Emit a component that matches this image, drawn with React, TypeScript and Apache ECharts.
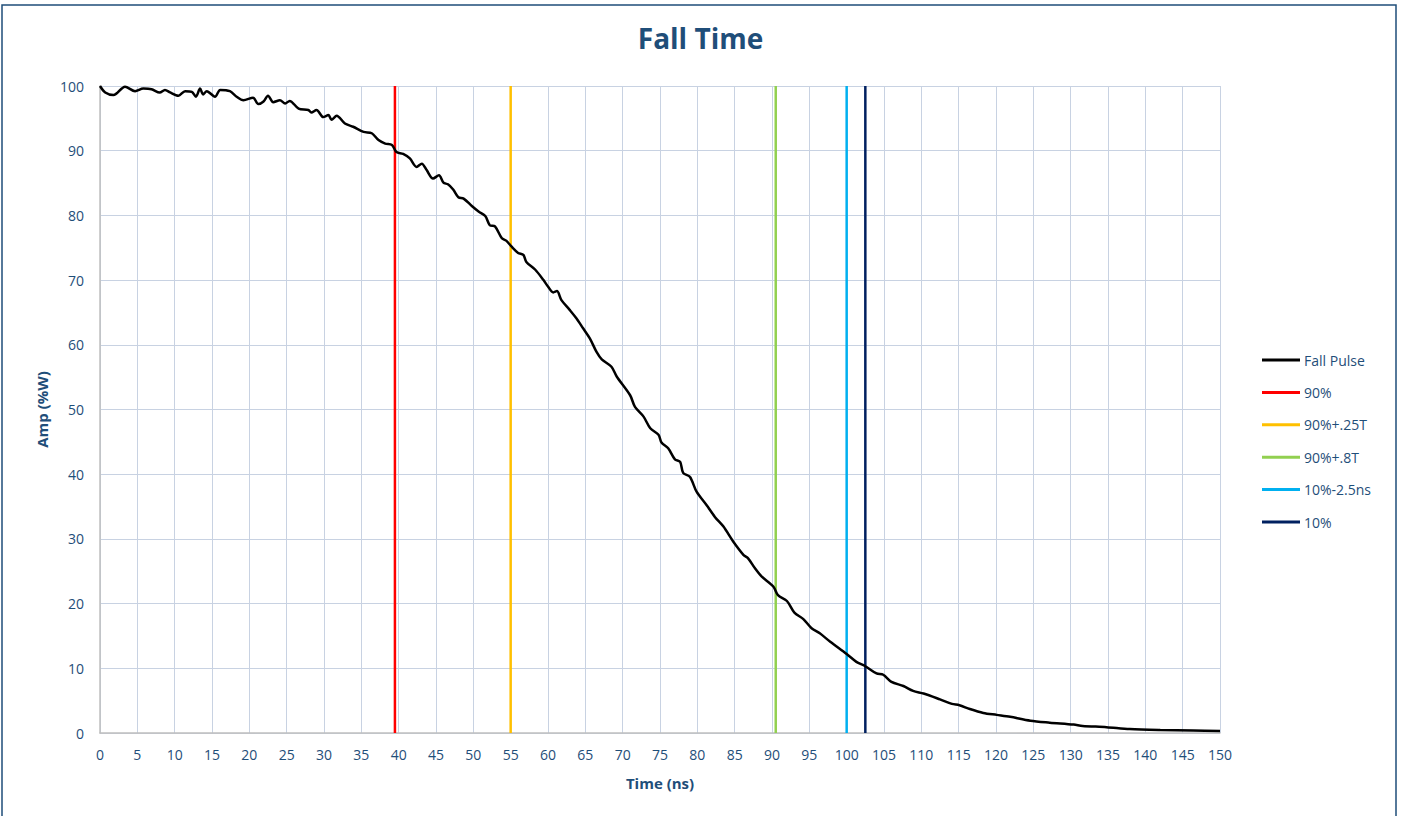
import React, { useEffect, useRef } from "react";
import * as echarts from "echarts";

const timeNs: number[] = [
  0, 0.7, 1.8, 3.35, 4.7, 5.8, 6.9, 8.0, 8.7, 9.4, 10.5, 11.4, 12.3, 12.85, 13.4, 13.8, 14.3, 15.4, 16.1, 17.4,
  18.3, 19.2, 20.5, 21.2, 21.9, 22.5, 23.2, 24.1, 24.8, 25.4, 26.6, 27.9, 28.3, 29.0, 29.9, 30.6, 31.0, 31.7,
  32.8, 33.9, 35.3, 36.4, 37.3, 38.2, 39.1, 39.7, 40.6, 41.5, 42.4, 43.1, 43.75, 44.6, 45.4, 46.0, 46.6, 47.3,
  48.0, 48.7, 49.8, 50.7, 51.6, 52.2, 52.9, 53.8, 54.4, 55.1, 56.0, 56.7, 57.1, 58.3, 59.4, 60.0, 60.7, 61.2,
  61.8, 62.9, 63.8, 64.7, 65.6, 66.5, 67.2, 68.5, 69.2, 71.0, 71.65, 72.8, 73.7, 74.8, 75.2, 76.1, 77.0, 77.7,
  78.1, 79.0, 79.9, 81.25, 82.35, 83.5, 84.8, 86.2, 86.8, 87.7, 88.6, 90.2, 90.8, 92.0, 93.0, 94.2, 95.3, 96.4,
  97.8, 100.0, 101.3, 102.45, 104.0, 104.9, 106.0, 107.6, 108.9, 110.3, 112.5, 114.1, 115.1, 116.5, 118.3,
  120.1, 121.9, 124.6, 127.2, 130.4, 131.6, 134.8, 137.9, 142, 146.4, 150,
];
const ampPct: number[] = [
  100, 99.0, 98.6, 99.9, 99.2, 99.6, 99.5, 99.0, 99.4, 99.0, 98.5, 99.2, 99.1, 98.35, 99.6, 98.7, 99.2, 98.35, 99.4, 99.2,
  98.35, 97.8, 98.2, 97.2, 97.6, 98.5, 97.5, 97.8, 97.3, 97.7, 96.5, 96.3, 95.9, 96.3, 95.2, 95.5, 94.8, 95.4,
  94.2, 93.7, 92.9, 92.7, 91.65, 91.1, 90.9, 89.8, 89.5, 88.8, 87.5, 88.0, 87.0, 85.7, 86.2, 85.05, 84.8, 84.0,
  82.8, 82.6, 81.45, 80.6, 79.9, 78.5, 78.3, 76.5, 76.1, 75.2, 74.2, 73.9, 72.8, 71.6, 70.0, 69.0, 68.1, 68.3,
  66.9, 65.4, 64.1, 62.55, 61.0, 58.9, 57.75, 56.6, 55.1, 52.2, 50.4, 48.9, 47.1, 46.1, 44.9, 44.0, 42.3, 41.9,
  40.2, 39.6, 37.3, 35.2, 33.4, 31.9, 29.6, 27.5, 27.0, 25.5, 24.2, 22.6, 21.3, 20.4, 18.6, 17.6, 16.2, 15.4,
  14.1, 12.2, 11.0, 10.35, 9.2, 9.0, 7.9, 7.26, 6.5, 6.1, 5.2, 4.5, 4.3, 3.7, 3.1,
  2.8, 2.5, 1.9, 1.6, 1.3, 1.1, 0.9, 0.6, 0.46, 0.4, 0.3,
];

const markerNames: string[] = ["90%", "90%+.25T", "90%+.8T", "10%-2.5ns", "10%"];
const markerTimes: number[] = [39.5, 55, 90.5, 100, 102.5];
const markerColors: string[] = ["#FF0000", "#FFC000", "#92D050", "#00B0F0", "#002060"];

const TEXT = "#1F4E79";
const FONT = "'Open Sans', 'Noto Sans', sans-serif";

export default function App() {
  const ref = useRef<HTMLDivElement>(null);
  useEffect(() => {
    if (!ref.current) return;
    const chart = echarts.init(ref.current, undefined, { renderer: "svg" });
    const pulse = timeNs.map((t, i) => [t, ampPct[i]]);
    const markerSeries = markerNames.map((n, i) => ({
      name: n,
      type: "line",
      data: [
        [markerTimes[i], 0],
        [markerTimes[i], 100],
      ],
      showSymbol: false,
      symbol: "none",
      lineStyle: { color: markerColors[i], width: 2.5 },
      itemStyle: { color: markerColors[i] },
      z: 3,
    }));
    chart.setOption({
      animation: false,
      backgroundColor: "#fff",
      textStyle: { fontFamily: FONT },
      title: {
        text: "Fall Time",
        left: "center",
        top: 19,
        textStyle: { color: TEXT, fontSize: 28, fontWeight: "bold", fontFamily: FONT },
      },
      graphic: [
        {
          type: "rect",
          shape: { x: 2, y: 5, width: 1394, height: 830 },
          style: { fill: "none", stroke: TEXT, lineWidth: 1.5 },
          silent: true,
        },
      ],
      grid: { left: 100, right: 181, top: 86, bottom: 83, containLabel: false },
      legend: {
        orient: "vertical",
        left: 1257,
        top: 348,
        icon: "rect",
        itemWidth: 38,
        itemHeight: 3,
        itemGap: 18.4,
        textStyle: { color: TEXT, fontSize: 14, fontFamily: FONT, padding: [0, 0, 0, -1] },
        data: ["Fall Pulse", ...markerNames],
      },
      xAxis: {
        type: "value",
        min: 0,
        max: 150,
        interval: 5,
        name: "Time (ns)",
        nameLocation: "middle",
        nameGap: 42,
        nameTextStyle: { color: TEXT, fontSize: 15, fontWeight: "bold", fontFamily: FONT },
        axisLine: { show: true, lineStyle: { color: "#BFBFBF", width: 1.5 } },
        axisTick: { show: false },
        axisLabel: { color: TEXT, fontSize: 14, margin: 14, fontFamily: FONT },
        splitLine: { show: true, lineStyle: { color: "#C8D2E2", width: 1 } },
      },
      yAxis: {
        type: "value",
        min: 0,
        max: 100,
        interval: 10,
        name: "Amp (%W)",
        nameLocation: "middle",
        nameGap: 50,
        nameTextStyle: { color: TEXT, fontSize: 15, fontWeight: "bold", fontFamily: FONT },
        axisLine: { show: true, lineStyle: { color: "#BFBFBF", width: 1.5 } },
        axisTick: { show: false },
        axisLabel: { color: TEXT, fontSize: 14, margin: 16, fontFamily: FONT },
        splitLine: { show: true, lineStyle: { color: "#C8D2E2", width: 1 } },
      },
      series: [
        {
          name: "Fall Pulse",
          type: "line",
          data: pulse,
          showSymbol: false,
          symbol: "none",
          smooth: 0.3,
          lineStyle: { color: "#000000", width: 2.5 },
          itemStyle: { color: "#000000" },
          z: 4,
        },
        ...markerSeries,
      ],
    });
    return () => chart.dispose();
  }, []);
  return (
    <div
      ref={ref}
      style={{ position: "fixed", left: 0, top: 0, width: 1401, height: 816 }}
    />
  );
}
